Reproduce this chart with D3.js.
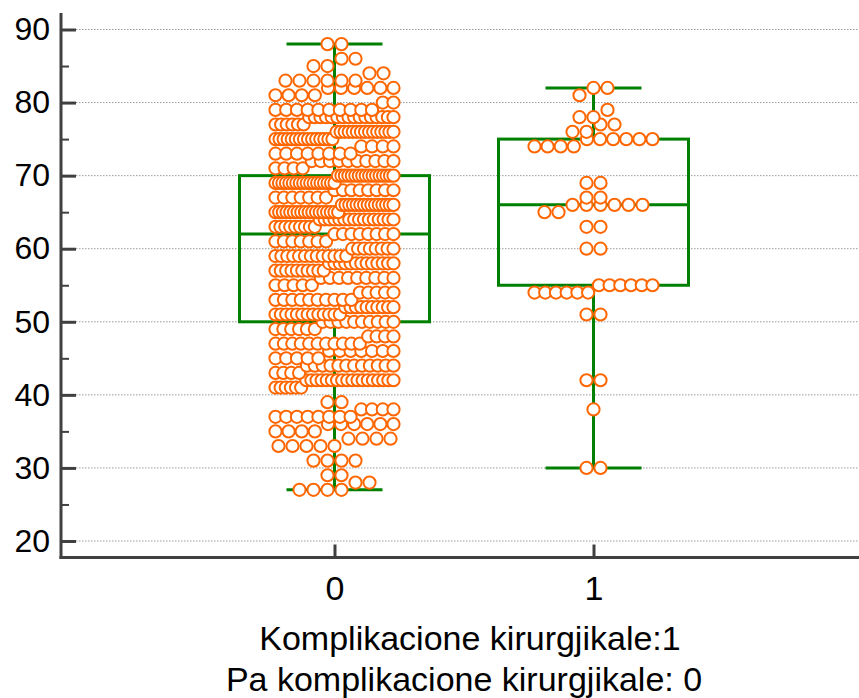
<!DOCTYPE html>
<html>
  <head>
    <meta charset="utf-8" />
    <script src="https://d3js.org/d3.v7.min.js"></script>
    <style>
      body { margin: 0; background: #fff; }
      .grid line { stroke: #9a9a9a; stroke-width: 1; stroke-dasharray: 1.5 1.5; }
    </style>
  </head>
  <body>
    <svg id="chart" width="859" height="698"></svg>
    <script>
      // categories on the x axis
      const groups = [0, 1];

      // ages (y values) and how many patients sit at each age, per group
      const ages = [27, 28, 29, 30, 31, 32, 33, 34, 35, 36, 37, 38, 39, 40, 41, 42, 43, 44, 45, 46,
                    47, 48, 49, 50, 51, 52, 53, 54, 55, 56, 57, 58, 59, 60, 61, 62, 63, 64, 65, 66,
                    67, 68, 69, 70, 71, 72, 73, 74, 75, 76, 77, 78, 79, 80, 81, 82, 83, 84, 85, 86,
                    87, 88];
      const count0 = [4, 2, 2, 0, 4, 0, 5, 4, 4, 6, 8, 4, 2, 0, 6, 18, 4, 12, 5, 7,
                      11, 4, 6, 10, 13, 10, 10, 5, 5, 9, 10, 13, 13, 8, 7, 8, 9, 16, 18, 15,
                      7, 8, 18, 17, 4, 10, 8, 4, 15, 15, 6, 16, 10, 2, 4, 6, 6, 2, 2, 2,
                      0, 2];
      const count1 = [0, 0, 0, 2, 0, 0, 0, 0, 0, 0, 0, 1, 0, 0, 0, 2, 0, 0, 0, 0,
                      0, 0, 0, 0, 2, 0, 0, 6, 6, 0, 0, 0, 0, 2, 0, 0, 2, 0, 2, 6,
                      2, 0, 2, 0, 0, 0, 0, 4, 6, 2, 2, 2, 1, 0, 1, 2, 0, 0, 0, 0,
                      0, 0];

      // box plot statistics
      const boxMin = [27, 30];
      const boxQ1 = [50, 55];
      const boxMed = [62, 66];
      const boxQ3 = [70, 75];
      const boxMax = [88, 82];

      const yTicks = [20, 30, 40, 50, 60, 70, 80, 90];
      const yMinor = [25, 35, 45, 55, 65, 75, 85];

      const svg = d3.select("#chart");
      const plotLeft = 61, plotRight = 859, plotTop = 13, plotBottom = 557.5;
      const font = "Arial, 'Liberation Sans', sans-serif";
      const axisColor = "#404040";
      const green = "#008000";
      const orange = "#ff6600";

      const x = d3.scaleLinear().domain([0, 1]).range([334.5, 593.5]);
      const y = d3.scaleLinear().domain([20, 90]).range([541, 29.5]);

      // dotted grid
      svg.append("g").attr("class", "grid")
        .selectAll("line").data(yTicks).join("line")
        .attr("x1", plotLeft).attr("x2", plotRight)
        .attr("y1", d => y(d)).attr("y2", d => y(d));

      // boxes and whiskers
      const boxHalf = 95, capHalf = 48;
      groups.forEach((g, i) => {
        const cx = x(g);
        const b = svg.append("g").attr("fill", "none").attr("stroke", green).attr("stroke-width", 3);
        b.append("line").attr("x1", cx).attr("x2", cx).attr("y1", y(boxMax[i])).attr("y2", y(boxQ3[i]));
        b.append("line").attr("x1", cx).attr("x2", cx).attr("y1", y(boxQ1[i])).attr("y2", y(boxMin[i]));
        [boxMax[i], boxMin[i]].forEach(v => {
          b.append("line").attr("x1", cx - capHalf).attr("x2", cx + capHalf).attr("y1", y(v)).attr("y2", y(v));
        });
        b.append("rect")
          .attr("x", cx - boxHalf).attr("width", 2 * boxHalf)
          .attr("y", y(boxQ3[i])).attr("height", y(boxQ1[i]) - y(boxQ3[i]));
        b.append("line").attr("x1", cx - boxHalf).attr("x2", cx + boxHalf)
          .attr("y1", y(boxMed[i])).attr("y2", y(boxMed[i]));
      });

      // dot layout: values within 2 units share a row, spread side by side
      const maxSpan = 118, step = 14;
      function swarm(counts) {
        const pts = [];
        ages.forEach((a, i) => { for (let k = 0; k < counts[i]; k++) pts.push(a); });
        const bins = [];
        pts.forEach(v => {
          const last = bins[bins.length - 1];
          if (last && v - last[0] < 2) last.push(v); else bins.push([v]);
        });
        const out = [];
        bins.forEach(bin => {
          const n = bin.length;
          const s = n > 1 ? Math.min(step, maxSpan / (n - 1)) : 0;
          bin.forEach((v, k) => out.push({ v, dx: (k - (n - 1) / 2) * s }));
        });
        return out;
      }

      [count0, count1].forEach((counts, i) => {
        svg.append("g")
          .selectAll("circle").data(swarm(counts)).join("circle")
          .attr("cx", d => x(groups[i]) + d.dx)
          .attr("cy", d => y(d.v))
          .attr("r", 6.1)
          .attr("fill", "#fff")
          .attr("stroke", orange)
          .attr("stroke-width", 2);
      });

      // y axis
      const yAxis = svg.append("g").attr("transform", `translate(${plotLeft},0)`)
        .call(d3.axisLeft(y).tickValues(yTicks).tickSize(-15).tickPadding(11))
        .attr("font-family", font).attr("font-size", 32);
      yAxis.select(".domain").remove();
      yAxis.selectAll(".tick line").attr("stroke", axisColor).attr("stroke-width", 3);
      yAxis.selectAll(".tick text").attr("fill", "#000");

      const yMinorAxis = svg.append("g").attr("transform", `translate(${plotLeft},0)`)
        .call(d3.axisLeft(y).tickValues(yMinor).tickSize(-8).tickFormat(""));
      yMinorAxis.select(".domain").remove();
      yMinorAxis.selectAll(".tick line").attr("stroke", axisColor).attr("stroke-width", 2);

      // x axis
      const xAxis = svg.append("g").attr("transform", `translate(0,${plotBottom})`)
        .call(d3.axisBottom(x).tickValues(groups).tickSize(-13).tickPadding(18).tickFormat(d3.format("d")))
        .attr("font-family", font).attr("font-size", 34);
      xAxis.select(".domain").remove();
      xAxis.selectAll(".tick line").attr("stroke", axisColor).attr("stroke-width", 3);
      xAxis.selectAll(".tick text").attr("fill", "#000");

      // frame lines
      svg.append("line").attr("x1", plotLeft).attr("x2", plotLeft).attr("y1", plotTop).attr("y2", plotBottom + 1.5)
        .attr("stroke", axisColor).attr("stroke-width", 3);
      svg.append("line").attr("x1", plotLeft - 1.5).attr("x2", plotRight).attr("y1", plotBottom).attr("y2", plotBottom)
        .attr("stroke", axisColor).attr("stroke-width", 3);

      // axis title, two lines
      const title = svg.append("text").attr("font-family", font).attr("font-size", 34)
        .attr("text-anchor", "middle").attr("fill", "#000");
      title.append("tspan").attr("x", 470).attr("y", 650).text("Komplikacione kirurgjikale:1");
      title.append("tspan").attr("x", 464).attr("y", 691).text("Pa komplikacione kirurgjikale: 0");
    </script>
  </body>
</html>
